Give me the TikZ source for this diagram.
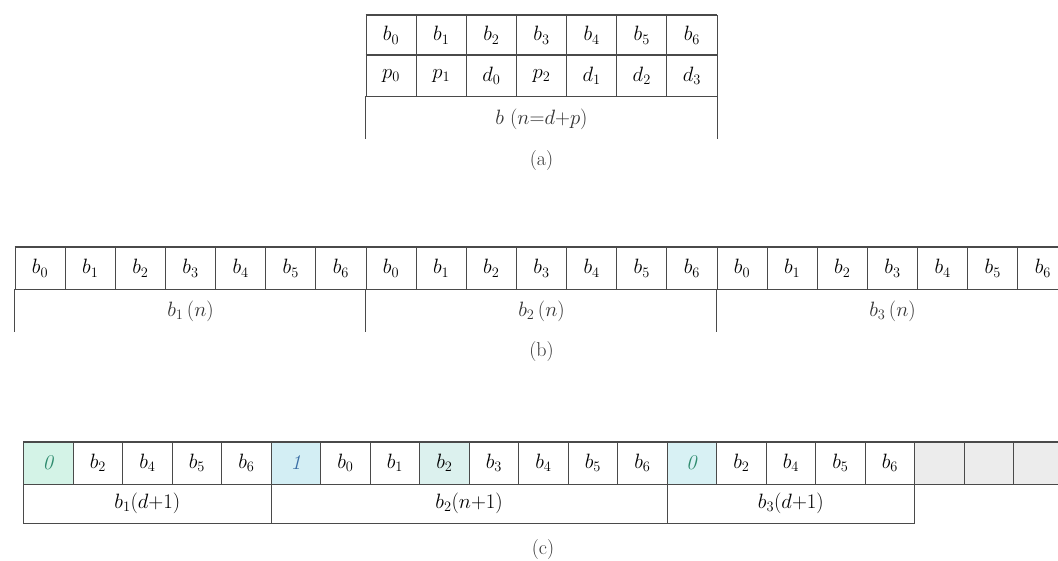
\documentclass[tikz,border=0pt]{standalone}
\definecolor{zerofill}{HTML}{D4F3E7}
\definecolor{zerofillb}{HTML}{D8F1F4}
\definecolor{onefill}{HTML}{D3EEF4}
\definecolor{hlfill}{HTML}{DCF1EE}
\definecolor{padfill}{HTML}{ECECEC}
\definecolor{zerotext}{HTML}{2E8B6E}
\definecolor{onetext}{HTML}{3B6EA5}
\definecolor{rulegray}{HTML}{4A4A4A}
\begin{document}
\begin{tikzpicture}[x=1pt,y=-1pt,
  cell/.style={draw=rulegray,line width=0.8pt,minimum width=50.14pt,minimum height=40.5pt,inner sep=0pt,font=\fontsize{21}{24}\selectfont},
  ccell/.style={cell,minimum width=49.5pt,minimum height=42pt},
  zerocell/.style={fill=zerofill,text=zerotext},
  zerocellb/.style={fill=zerofillb,text=zerotext},
  onecell/.style={fill=onefill,text=onetext},
  hlcell/.style={fill=hlfill},
  padcell/.style={fill=padfill},
  plaincell/.style={},
  hline/.style={draw=rulegray,line width=1.6pt},
  vline/.style={draw=rulegray,line width=0.9pt},
  lab/.style={font=\fontsize{20}{24}\selectfont,text=black!80},
  captext/.style={font=\fontsize{20}{24}\selectfont,text=black!80}]
\useasboundingbox (0,0) rectangle (1058,560);
\fill[white] (0,0) rectangle (1058,560);

\foreach \i/\p in {0/p_0,1/p_1,2/d_0,3/p_2,4/d_1,5/d_2,6/d_3}{
  \node[cell] (ab\i) at ({391.07+50.14*\i},35.25) {$b_{\i}$};
  \node[cell] (ap\i) at ({391.07+50.14*\i},75.75) {$\p$};
}
\draw[hline] (ab0.north west) -- (ab6.north east);
\draw[hline] (ap0.north west) -- (ap6.north east);
\draw[hline] (ap0.south west) -- (ap6.south east);
\coordinate (aend) at (541.5,139);
\draw[vline] (ap0.south west) -- (ap0.south west |- aend);
\draw[vline] (ap6.south east) -- (ap6.south east |- aend);
\node[lab] (alab) at (541.5,119) {$b\ (n{=}d{+}p)$};
\node[captext] (acap) at (541.5,161) {(a)};

\foreach \i in {0,...,20}{
  \pgfmathtruncatemacro\k{mod(\i,7)}
  \node[cell,minimum height=41.5pt] (bb\i) at ({40.07+50.14*\i},268.25) {$b_{\k}$};
}
\draw[hline] (bb0.north west) -- (bb20.north east);
\draw[hline] (bb0.south west) -- (bb20.south east);
\coordinate (bend) at (541.5,332);
\foreach \j in {0,7,14}{
  \draw[vline] (bb\j.south west) -- (bb\j.south west |- bend);
}
\draw[vline] (bb20.south east) -- (bb20.south east |- bend);
\node[lab] (blab1) at (190.5,311) {$b_1\,(n)$};
\node[lab] (blab2) at (541.5,311) {$b_2\,(n)$};
\node[lab] (blab3) at (892.5,311) {$b_3\,(n)$};
\node[captext] (bcap) at (541.5,352) {(b)};

\foreach \i/\t/\s in {0/\textit{0}/zerocell,1/$b_2$/plaincell,2/$b_4$/plaincell,3/$b_5$/plaincell,4/$b_6$/plaincell,
  5/\textit{1}/onecell,6/$b_0$/plaincell,7/$b_1$/plaincell,8/$b_2$/hlcell,9/$b_3$/plaincell,10/$b_4$/plaincell,11/$b_5$/plaincell,12/$b_6$/plaincell,
  13/\textit{0}/zerocellb,14/$b_2$/plaincell,15/$b_4$/plaincell,16/$b_5$/plaincell,17/$b_6$/plaincell,
  18//padcell,19//padcell,20//padcell}{
  \node[ccell,\s] (cb\i) at ({48.35+49.5*\i},463) {\t};
}
\node[ccell,minimum width=247.5pt,minimum height=39pt,font=\fontsize{20}{24}\selectfont] (clab1) at (147.35,503.5) {$b_1(d{+}1)$};
\node[ccell,minimum width=396pt,minimum height=39pt,font=\fontsize{20}{24}\selectfont] (clab2) at (469.1,503.5) {$b_2(n{+}1)$};
\node[ccell,minimum width=247.5pt,minimum height=39pt,font=\fontsize{20}{24}\selectfont] (clab3) at (790.85,503.5) {$b_3(d{+}1)$};
\draw[hline] (cb0.north west) -- (cb20.north east);
\draw[hline] (cb0.south west) -- (cb20.south east);
\draw[hline] (clab1.south west) -- (clab3.south east);
\node[captext] (ccap) at (543,550) {(c)};
\end{tikzpicture}
\end{document}
